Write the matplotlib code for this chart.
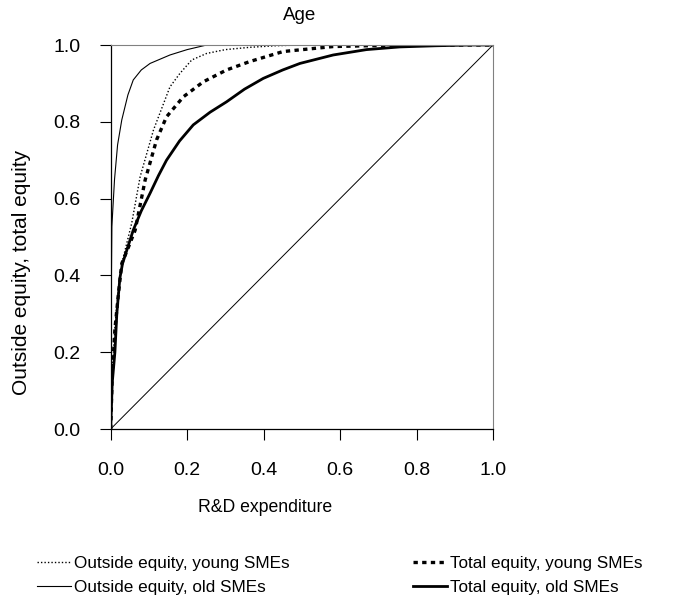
import matplotlib
matplotlib.use("Agg")
from matplotlib import pyplot as plt

# DATOS
x_outside_young = [0.0, 0.004, 0.012, 0.020, 0.029, 0.055, 0.077, 0.112, 0.155, 0.181, 0.212, 0.251, 0.300, 0.364, 0.430, 0.495, 1.0]
y_outside_young = [0.0, 0.15, 0.28, 0.36, 0.431, 0.536, 0.657, 0.779, 0.891, 0.926, 0.961, 0.978, 0.988, 0.994, 0.998, 1.0, 1.0]

x_outside_old = [0.0, 0.001, 0.003, 0.010, 0.018, 0.029, 0.045, 0.059, 0.080, 0.103, 0.155, 0.200, 0.251, 1.0]
y_outside_old = [0.0, 0.30, 0.527, 0.650, 0.740, 0.805, 0.870, 0.909, 0.935, 0.952, 0.974, 0.988, 1.0, 1.0]

x_total_young = [0.0, 0.004, 0.011, 0.020, 0.029, 0.045, 0.064, 0.090, 0.120, 0.146, 0.190, 0.242, 0.303, 0.364, 0.451, 0.582, 0.669, 0.800, 1.0]
y_total_young = [0.0, 0.14, 0.26, 0.35, 0.431, 0.470, 0.518, 0.648, 0.753, 0.813, 0.865, 0.904, 0.935, 0.957, 0.983, 0.996, 0.998, 1.0, 1.0]

x_total_old = [0.0, 0.004, 0.011, 0.016, 0.024, 0.031, 0.059, 0.080, 0.103, 0.125, 0.146, 0.180, 0.216, 0.260, 0.303, 0.350, 0.399, 0.450, 0.495, 0.582, 0.669, 0.756, 0.850, 0.940, 1.0]
y_total_old = [0.0, 0.12, 0.20, 0.30, 0.393, 0.431, 0.518, 0.568, 0.614, 0.660, 0.700, 0.750, 0.792, 0.825, 0.852, 0.885, 0.913, 0.935, 0.952, 0.974, 0.988, 0.995, 0.998, 1.0, 1.0]

x_diag = [0.0, 1.0]
y_diag = [0.0, 1.0]

ticks = [0.0, 0.2, 0.4, 0.6, 0.8, 1.0]
tick_labels = ["0.0", "0.2", "0.4", "0.6", "0.8", "1.0"]

labels = ["Outside equity, young SMEs", "Outside equity, old SMEs",
          "Total equity, young SMEs", "Total equity, old SMEs"]

# FUENTES
plt.rcParams['font.family'] = ['Liberation Sans', 'DejaVu Sans']


def main():
    fig = plt.figure(figsize=(6.99, 6.05), dpi=100)
    ax = fig.add_axes([110.7 / 699, 1 - 429 / 605, (493 - 110.7) / 699, (429 - 45) / 605])

    l1, = ax.plot(x_outside_young, y_outside_young, color='black', lw=1.0, linestyle=(0, (1, 1.5)))
    l2, = ax.plot(x_outside_old, y_outside_old, color='black', lw=0.8)
    l3, = ax.plot(x_total_young, y_total_young, color='black', lw=2.4, linestyle=(0, (1.3, 1.3)))
    l4, = ax.plot(x_total_old, y_total_old, color='black', lw=2.0)
    ax.plot(x_diag, y_diag, color='black', lw=0.7)

    ax.set_xlim(0, 1)
    ax.set_ylim(0, 1)
    ax.set_xticks(ticks)
    ax.set_xticklabels(tick_labels)
    ax.set_yticks(ticks)
    ax.set_yticklabels(tick_labels)
    ax.tick_params(axis='both', direction='out', length=8, width=0.8, labelsize=14)
    ax.tick_params(axis='x', pad=16)
    ax.tick_params(axis='y', pad=14)

    for lado in ['top', 'right']:
        ax.spines[lado].set_color('#808080')
        ax.spines[lado].set_linewidth(0.8)
    for lado in ['left', 'bottom']:
        ax.spines[lado].set_color('black')
        ax.spines[lado].set_linewidth(0.9)

    # Titulos
    fig.text(300 / 699, 1 - 16 / 605, "Age", ha='center', va='center', fontsize=13.5)
    fig.text(265 / 699, 1 - 508 / 605, "R&D expenditure", ha='center', va='center', fontsize=12.7)
    fig.text(22 / 699, 1 - 272 / 605, "Outside equity, total equity", ha='center', va='center',
             rotation=90, fontsize=15)

    # Leyenda
    fig.legend([l1, l2, l3, l4], labels, ncol=2, loc='upper left',
               bbox_to_anchor=(37 / 699, 1 - 556 / 605), frameon=False,
               prop={'size': 12.3},
               handlelength=2.0, handletextpad=0.18, columnspacing=7.2,
               labelspacing=0.55, borderpad=0, borderaxespad=0)

    plt.savefig("out.png", dpi=100)


main()
